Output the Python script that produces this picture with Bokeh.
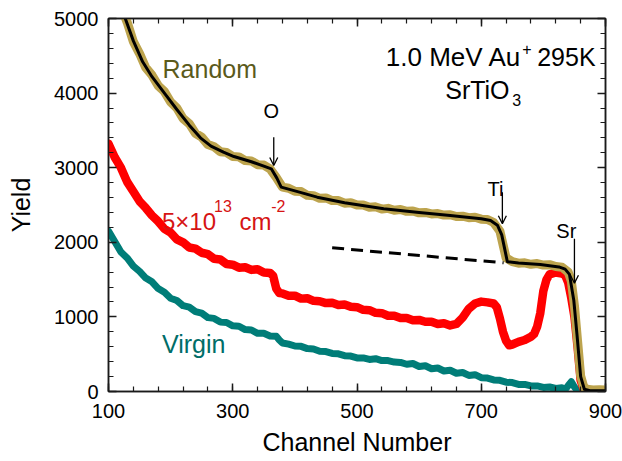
from bokeh.plotting import figure
from bokeh.models import Label, Arrow, OpenHead, LinearAxis, FixedTicker, Range1d
from bokeh.embed import file_html
from bokeh.resources import INLINE

# ---------------- data ----------------
# Random spectrum (measured data)
rand_ch = [120, 130, 140, 150, 160, 170, 180, 190, 200, 210, 220, 230, 240, 250, 260, 270,
           280, 290, 300, 310, 320, 330, 340, 350, 360, 370, 380, 390, 400, 410, 420, 430,
           440, 450, 460, 470, 480, 490, 500, 510, 520, 530, 540, 550, 560, 570, 580, 590,
           600, 610, 620, 630, 640, 650, 660, 670, 680, 690, 700, 710, 720, 730, 740, 750,
           760, 770, 780, 790, 800, 810, 820, 830, 840, 845, 850, 855, 860, 865, 870, 880,
           890, 900]
rand_y = [5160, 4950, 4690, 4530, 4340, 4240, 4100, 4020, 3880, 3800, 3660, 3590, 3460, 3410, 3310, 3280,
          3215, 3205, 3150, 3145, 3095, 3090, 3040, 3035, 2985, 2870, 2740, 2725, 2685, 2680, 2630, 2625,
          2590, 2595, 2560, 2560, 2525, 2530, 2500, 2500, 2470, 2475, 2445, 2455, 2430, 2440, 2415, 2420,
          2395, 2400, 2380, 2385, 2365, 2370, 2345, 2350, 2330, 2335, 2310, 2305, 2265, 2150, 1790, 1740,
          1720, 1725, 1705, 1715, 1695, 1700, 1675, 1665, 1600, 1480, 1150, 680, 210, 60, 30, 20,
          25, 20]

# Random fit (simulation)
fit_ch = [120, 127, 140, 155, 170, 190, 210, 230, 248, 265, 285, 302, 330, 350, 362, 371, 378,
          400, 436, 480, 543, 600, 650, 700, 715, 726, 733, 742, 760, 795, 825, 835, 842, 849,
          854, 860, 866, 875, 900]
fit_y = [5150, 5000, 4700, 4420, 4220, 4000, 3780, 3570, 3400, 3290, 3210, 3150, 3080, 3020, 2985, 2860, 2740,
         2690, 2605, 2530, 2449, 2400, 2359, 2315, 2292, 2230, 2100, 1740, 1722, 1702, 1670, 1640, 1570, 1220,
         773, 200, 30, 10, 10]

# 5x10^13 cm^-2 irradiated
dose_ch = [100, 110, 120, 130, 140, 150, 160, 170, 180, 190, 200, 210, 220, 230, 240, 250,
           260, 270, 280, 290, 300, 310, 320, 330, 340, 350, 360, 365, 370, 375, 380, 390,
           400, 410, 420, 430, 440, 450, 460, 470, 480, 490, 500, 510, 520, 530, 540, 550,
           560, 570, 580, 590, 600, 610, 620, 630, 640, 650, 660, 670, 680, 690, 700, 710,
           720, 725, 730, 735, 740, 745, 750, 760, 770, 780, 785, 790, 795, 800, 805, 810,
           820, 830, 835, 840, 845, 850, 855, 860, 865, 870, 900]
dose_y = [3320, 3140, 3000, 2810, 2680, 2550, 2460, 2360, 2280, 2180, 2130, 2040, 2000, 1930, 1915, 1860,
          1840, 1780, 1770, 1710, 1700, 1660, 1665, 1630, 1640, 1595, 1590, 1550, 1380, 1320, 1315, 1285,
          1285, 1245, 1250, 1215, 1210, 1185, 1190, 1160, 1165, 1135, 1130, 1095, 1090, 1055, 1050, 1015,
          1015, 985, 985, 955, 960, 935, 935, 905, 915, 885, 905, 990, 1110, 1180, 1205, 1195,
          1180, 1130, 980, 800, 680, 620, 630, 665, 690, 735, 770, 870, 1050, 1350, 1500, 1570,
          1595, 1580, 1560, 1460, 1250, 1000, 600, 150, 30, 10, 10]

# Virgin
virg_ch = [100, 110, 120, 130, 140, 150, 160, 170, 180, 190, 200, 210, 220, 230, 240, 250,
           260, 270, 280, 290, 300, 310, 320, 330, 340, 350, 360, 370, 375, 380, 390, 400,
           410, 420, 430, 440, 450, 460, 470, 480, 490, 500, 510, 520, 530, 540, 550, 560,
           570, 580, 590, 600, 610, 620, 630, 640, 650, 660, 670, 680, 690, 700, 710, 720,
           730, 740, 750, 760, 770, 780, 790, 800, 810, 820, 830, 835, 840, 845, 850, 855,
           860, 900]
virg_y = [2150, 2010, 1870, 1790, 1680, 1610, 1520, 1470, 1380, 1330, 1250, 1220, 1150, 1130, 1070, 1050,
          990, 980, 930, 925, 880, 875, 830, 825, 780, 780, 745, 740, 690, 650, 635, 610,
          605, 575, 570, 540, 535, 510, 505, 480, 475, 450, 450, 430, 440, 415, 415, 395,
          390, 365, 375, 335, 345, 305, 315, 275, 285, 245, 255, 215, 225, 185, 180, 155,
          150, 125, 120, 95, 95, 75, 75, 55, 60, 40, 50, 25, 80, 130, 60, 10,
          5, 0]

# dashed guide line
dash_ch = [460, 736]
dash_y = [1926, 1725]

x_major = [100, 300, 500, 700, 900]
x_minor = list(range(100, 901, 40))
y_major = [0, 1000, 2000, 3000, 4000, 5000]
y_minor = list(range(0, 5001, 200))

FONT = "Liberation Sans"
KHAKI = "#bda44e"
RED = "#ff0000"
TEAL = "#007d78"

p = figure(width=622, height=461, x_range=Range1d(100, 900), y_range=Range1d(0, 5000),
           output_backend="svg", toolbar_location=None,
           min_border_left=108, min_border_right=17, min_border_top=18, min_border_bottom=70)
p.grid.visible = False
p.outline_line_color = "#1a1a1a"
p.outline_line_width = 1.5
p.background_fill_color = "white"
p.border_fill_color = "white"


def style(ax, ticks, minor):
    ax.ticker = FixedTicker(ticks=ticks, minor_ticks=minor)
    ax.major_tick_in = 8
    ax.major_tick_out = 0
    ax.minor_tick_in = 5
    ax.minor_tick_out = 0
    ax.axis_line_color = "#1a1a1a"
    ax.axis_line_width = 1.5
    ax.major_tick_line_color = "#1a1a1a"
    ax.minor_tick_line_color = "#1a1a1a"
    ax.major_tick_line_width = 1.5
    ax.minor_tick_line_width = 1.2
    ax.major_label_text_font = FONT
    ax.major_label_text_font_size = "20px"
    ax.major_label_text_color = "black"
    ax.axis_label_text_font = FONT
    ax.axis_label_text_font_size = "25px"
    ax.axis_label_text_font_style = "normal"
    ax.axis_label_text_color = "black"


style(p.xaxis[0], x_major, x_minor)
style(p.yaxis[0], y_major, y_minor)
p.xaxis[0].axis_label = "Channel Number"
p.yaxis[0].axis_label = "Yield"
p.xaxis[0].major_label_standoff = 12
p.xaxis[0].axis_label_standoff = 7
p.yaxis[0].major_label_standoff = 10
p.yaxis[0].axis_label_standoff = 16

top = LinearAxis()
style(top, x_major, x_minor)
top.major_label_text_color = None
top.major_label_text_font_size = "1px"
top.major_label_standoff = 0
p.add_layout(top, "above")
right = LinearAxis()
style(right, y_major, y_minor)
right.major_label_text_color = None
right.major_label_text_font_size = "1px"
right.major_label_standoff = 0
p.add_layout(right, "right")

# curves
p.line(virg_ch, virg_y, line_color=TEAL, line_width=7, line_join="round", line_cap="round")
p.line(dose_ch, dose_y, line_color=RED, line_width=8.5, line_join="round", line_cap="round")
p.line(rand_ch, rand_y, line_color=KHAKI, line_width=9, line_join="round", line_cap="round")
p.line(fit_ch, fit_y, line_color="black", line_width=3, line_join="round")
p.line(dash_ch, dash_y, line_color="black", line_width=3, line_dash="12 7")


def lab(x, y, text, size, color="black", align="left", baseline="alphabetic"):
    p.add_layout(Label(x=x, y=y, text=text, text_font=FONT, text_font_size=size,
                       text_color=color, text_align=align, text_baseline=baseline))


lab(187, 4326, "Random", "25px", "#5b5a1b")
lab(186, 639, "Virgin", "25px", "#006d68")
RTXT = "#d61414"
lab(186, 2283, "5\u00d710", "24px", RTXT)
lab(270, 2480, "13", "16px", RTXT)
lab(311, 2283, "cm", "24px", RTXT)
lab(362, 2480, "-2", "16px", RTXT)

lab(765, 4481, "1.0 MeV Au", "26px", align="right")
lab(766, 4587, "+", "16px")
lab(884, 4481, "295K", "25px", align="right")
lab(642, 4035, "SrTiO", "25px")
lab(750, 3914, "3", "16px")

lab(362, 3766, "O", "20px", align="center")
lab(723, 2717, "Ti", "20px", align="center")
lab(837, 2149, "Sr", "20px", align="center")

for (ax, y0, y1) in [(366, 3409, 3030), (734, 2672, 2248), (850, 2047, 1452)]:
    p.add_layout(Arrow(x_start=ax, y_start=y0, x_end=ax, y_end=y1, line_width=1.3,
                       line_color="black",
                       end=OpenHead(size=8, line_width=1.3, line_color="black")))

open("out.html", "w").write(file_html(p, INLINE))
